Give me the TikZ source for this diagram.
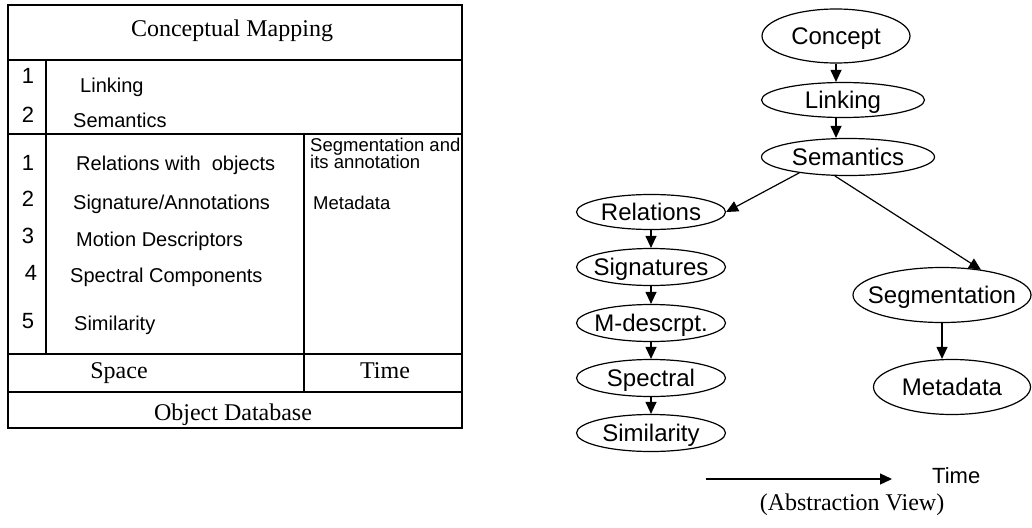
\documentclass[tikz,border=0pt]{standalone}
\usepackage{fontspec}
\setmainfont{Liberation Serif}
\newfontfamily\arialf{Liberation Sans}
\usetikzlibrary{arrows.meta,shapes.geometric}
\newcommand{\ovaltext}[1]{\makebox[0pt][c]{#1}}
\begin{document}
\begin{tikzpicture}[x=1pt,y=-1pt,
  oval/.style={draw, ellipse, line width=1.2pt, inner sep=0pt, text height=17pt, text depth=0pt,
    font=\arialf\fontsize{24}{26}\selectfont},
  conn/.style={line width=1.2pt, -{Triangle[length=12pt,width=11pt]}},
  tline/.style={line width=1.6pt},
  cell/.style={inner sep=0pt, anchor=base west, font=\arialf\fontsize{20}{22}\selectfont},
  num/.style={inner sep=0pt, anchor=base, font=\arialf\fontsize{22}{24}\selectfont},
  rcell/.style={inner sep=0pt, anchor=base west, font=\arialf\fontsize{18.5}{20}\selectfont},
  serif/.style={inner sep=0pt, anchor=base, font=\fontsize{24}{26}\selectfont}]
\useasboundingbox (0,0) rectangle (1032,527);

% ---------- table ----------
\draw[tline] (8,5) rectangle (462,428);
\draw[tline] (8,60) -- (462,60);
\draw[tline] (8,134) -- (462,134);
\draw[tline] (8,354) -- (462,354);
\draw[tline] (8,392) -- (462,392);
\draw[tline] (46,60) -- (46,354);
\draw[tline] (304,134) -- (304,392);

\node[serif] (hdr) at (232,37) {Conceptual Mapping};
\node[num] (n1a) at (28,83) {1};
\node[num] (n2a) at (28,122) {2};
\node[cell] (tlink) at (80,92) {Linking};
\node[cell] (tsem) at (73,127) {Semantics};
\node[num] (n1) at (28,170) {1};
\node[num] (n2) at (28,206) {2};
\node[num] (n3) at (28,243) {3};
\node[num] (n4) at (31,280) {4};
\node[num] (n5) at (28,328) {5};
\node[cell] (trel) at (76,170) {Relations with\ \ objects};
\node[cell] (tsig) at (73,209) {Signature/Annotations};
\node[cell] (tmot) at (76,246) {Motion Descriptors};
\node[cell] (tspe) at (70,282) {Spectral Components};
\node[cell] (tsim) at (74,330) {Similarity};
\node[rcell] (tseg1) at (310,151) {Segmentation and};
\node[rcell] (tseg2) at (310,168) {its annotation};
\node[rcell] (tmeta) at (313,209) {Metadata};
\node[serif] (tspace) at (119,378) {Space};
\node[serif] (ttime) at (385,378) {Time};
\node[serif] (tobj) at (233,420) {Object Database};

% ---------- abstraction view ----------
\node[oval, minimum width=148pt, minimum height=54pt] (concept) at (836,36) {\ovaltext{Concept}};
\node[oval, minimum width=163pt, minimum height=35pt] (linking) at (843,100) {\ovaltext{Linking}};
\node[oval, minimum width=173pt, minimum height=37pt] (semantics) at (848,157) {\ovaltext{Semantics}};
\node[oval, minimum width=149pt, minimum height=35pt] (relations) at (651,212) {\ovaltext{Relations}};
\node[oval, minimum width=149pt, minimum height=37pt] (signatures) at (651,267) {\ovaltext{Signatures}};
\node[oval, minimum width=149pt, minimum height=37pt] (mdesc) at (651,323) {\ovaltext{M-descrpt.}};
\node[oval, minimum width=149pt, minimum height=37pt] (spectral) at (651,378) {\ovaltext{Spectral}};
\node[oval, minimum width=149pt, minimum height=37pt] (similarity) at (651,433) {\ovaltext{Similarity}};
\node[oval, minimum width=178pt, minimum height=55pt] (segmentation) at (942,295) {\ovaltext{Segmentation}};
\node[oval, minimum width=157pt, minimum height=55pt] (metadata) at (952,387) {\ovaltext{Metadata}};

\draw[conn] (concept.south) -- (concept.south |- linking.north);
\draw[conn] (linking.south -| concept.south) -- (concept.south |- semantics.north);
\draw[conn] (semantics.198) -- (relations.east);
\draw[conn] (semantics.235) -- (segmentation.33);
\draw[conn] (relations.south) -- (signatures.north);
\draw[conn] (signatures.south) -- (mdesc.north);
\draw[conn] (mdesc.south) -- (spectral.north);
\draw[conn] (spectral.south) -- (similarity.north);
\draw[conn] (segmentation.south) -- (segmentation.south |- metadata.north);

\coordinate (t0) at (706,479);
\coordinate (t1) at (892,479);
\draw[conn] (t0) -- (t1);
\node[inner sep=0pt, anchor=base west, font=\arialf\fontsize{22}{24}\selectfont] (timelbl) at (932,483) {Time};
\node[serif] (absview) at (852,510) {(Abstraction View)};
\end{tikzpicture}
\end{document}
